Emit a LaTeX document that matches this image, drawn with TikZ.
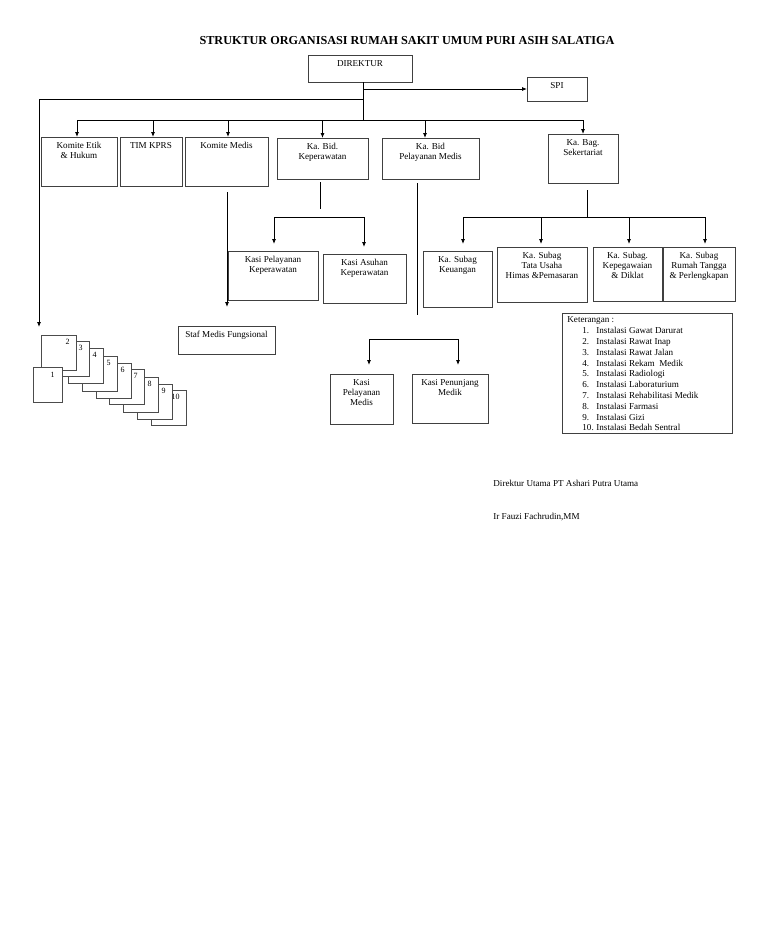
\documentclass[tikz,border=0pt]{standalone}
\usepackage{fontspec}
\setmainfont{Liberation Serif}
\usetikzlibrary{arrows.meta}
\newcommand{\obx}[6]{\node[obox, minimum width={(#4-#2)*1pt}, minimum height={(#5-#3)*1pt}, label={[lbl]north:{#6}}] (#1) at ({(#2+#4)/2},{(#3+#5)/2}) {};}
\newcommand{\pg}[3]{\node[pgbox, minimum width=35pt, minimum height=35pt, anchor=north east, label={[pglbl]north east:{#3}}] (p#3) at (#1,#2) {};}
\begin{document}
\begin{tikzpicture}[x=1pt,y=-1pt,
  line width=0.8pt,
  fs/.style={font=\fontsize{9.1}{10}\selectfont},
  obox/.style={draw=black!75, line width=0.8pt, fill=white, inner sep=0pt, outer sep=0pt},
  pgbox/.style={draw=black!70, line width=0.7pt, fill=white, inner sep=0pt, outer sep=0pt},
  lbl/.style={anchor=north, inner sep=0pt, yshift=-5pt, align=center, fs},
  pglbl/.style={anchor=north east, inner sep=0pt, xshift=-6pt, yshift=-4pt, font=\fontsize{8}{9}\selectfont},
  arr/.style={-{Latex[length=5pt,width=4pt]}},
  darr/.style={{Latex[length=5pt,width=4pt]}-{Latex[length=5pt,width=4pt]}}
]
\useasboundingbox (0,0) rectangle (768,932);
\fill[white] (0,0) rectangle (768,932);

% title
\node[font=\fontsize{12.2}{14}\selectfont\bfseries, inner sep=0pt] (title) at (407,41) {STRUKTUR ORGANISASI RUMAH SAKIT UMUM PURI ASIH SALATIGA};

% top level
\obx{dir}{308}{55}{412}{82}{DIREKTUR}
\obx{spi}{527}{77}{587}{101}{SPI}

% second row
\obx{ke}{41}{137}{117}{186}{Komite Etik\\\& Hukum}
\obx{tim}{120}{137}{182}{186}{TIM KPRS}
\obx{km}{185}{137}{268}{186}{Komite Medis}
\obx{kbk}{277}{138}{368}{179}{Ka. Bid.\\Keperawatan}
\obx{kbpm}{382}{138}{479}{179}{Ka. Bid\\Pelayanan Medis}
\obx{kbag}{548}{134}{618}{183}{Ka. Bag.\\Sekertariat}

% third row
\obx{kpk}{228}{251}{318}{300}{Kasi Pelayanan\\Keperawatan}
\obx{kak}{323}{254}{406}{303}{Kasi Asuhan\\Keperawatan}
\obx{sk}{423}{251}{492}{307}{Ka. Subag\\Keuangan}
\obx{stu}{497}{247}{587}{302}{Ka. Subag\\Tata Usaha\\Himas \&Pemasaran}
\obx{skp}{593}{247}{662}{301}{Ka. Subag.\\Kepegawaian\\\& Diklat}
\obx{srt}{663}{247}{735}{301}{Ka. Subag\\Rumah Tangga\\\& Perlengkapan}

\obx{smf}{178}{326}{275}{354}{Staf Medis Fungsional}
\obx{kpm}{330}{374}{393}{424}{Kasi\\Pelayanan\\Medis}
\obx{kpj}{412}{374}{488}{423}{Kasi Penunjang\\Medik}

% keterangan
\obx{ket}{562}{313}{732}{433}{}
\node[anchor=north west, inner sep=0pt, align=left, font=\fontsize{9.1}{10.8}\selectfont] (kettext) at (567,316.5) {Keterangan :\\
\hspace*{15pt}\makebox[14pt][l]{1.}Instalasi Gawat Darurat\\
\hspace*{15pt}\makebox[14pt][l]{2.}Instalasi Rawat Inap\\
\hspace*{15pt}\makebox[14pt][l]{3.}Instalasi Rawat Jalan\\
\hspace*{15pt}\makebox[14pt][l]{4.}Instalasi Rekam\ \ Medik\\
\hspace*{15pt}\makebox[14pt][l]{5.}Instalasi Radiologi\\
\hspace*{15pt}\makebox[14pt][l]{6.}Instalasi Laboraturium\\
\hspace*{15pt}\makebox[14pt][l]{7.}Instalasi Rehabilitasi Medik\\
\hspace*{15pt}\makebox[14pt][l]{8.}Instalasi Farmasi\\
\hspace*{15pt}\makebox[14pt][l]{9.}Instalasi Gizi\\
\hspace*{15pt}\makebox[14pt][l]{10.}Instalasi Bedah Sentral};

% stacked pages (installations)
\pg{186}{390}{10}
\pg{172}{384}{9}
\pg{158}{377}{8}
\pg{144}{369}{7}
\pg{131}{363}{6}
\pg{117}{356}{5}
\pg{103}{348}{4}
\pg{89}{341}{3}
\pg{76}{335}{2}
\node[pgbox, minimum width=29pt, minimum height=35pt, anchor=north west, label={[pglbl, xshift=-1pt, yshift=-1pt]north east:{1}}] (p1) at (33,367) {};

% signature
\node[anchor=west, inner sep=0pt, fs] (sig1) at (493,483) {Direktur Utama PT Ashari Putra Utama};
\node[anchor=west, inner sep=0pt, fs] (sig2) at (493,517) {Ir Fauzi Fachrudin,MM};

% connectors
\coordinate (jbus) at (363,120);
\coordinate (jleft) at (363,99);
\coordinate (lcorner) at (39,99);
\coordinate (lend) at (39,327);
\draw (dir.south -| jbus) -- (jbus);
\draw[arr] (jbus |- spi.west) -- (spi.west);
\draw[arr] (jleft) -- (lcorner) -- (lend);
\draw ([xshift=-2pt]ke.north |- jbus) -- (kbag.north |- jbus);
\draw[arr] ([xshift=-2pt]ke.north |- jbus) -- ([xshift=-2pt]ke.north);
\draw[arr] ([xshift=2pt]tim.north |- jbus) -- ([xshift=2pt]tim.north);
\draw[arr] ([xshift=1.5pt]km.north |- jbus) -- ([xshift=1.5pt]km.north);
\draw[arr] (kbk.north |- jbus) -- (kbk.north);
\draw[arr] ([xshift=-5.5pt]kbpm.north |- jbus) -- ([xshift=-5.5pt]kbpm.north);
\draw[arr] (kbag.north |- jbus) -- (kbag.north);

% komite medis -> staf medis
\coordinate (kmA) at (227,192);
\coordinate (kmB) at (227,307);
\draw[arr] (kmA) -- (kmB);

% keperawatan
\coordinate (kepA) at (320,182);
\coordinate (kepB) at (320,209);
\coordinate (kepL) at (274,217);
\coordinate (kepR) at (364,217);
\coordinate (kepLe) at (274,244);
\coordinate (kepRe) at (364,247);
\draw (kepA) -- (kepB);
\draw[darr] (kepLe) -- (kepL) -- (kepR) -- (kepRe);

% pelayanan medis
\coordinate (pmA) at (417,183);
\coordinate (pmB) at (417,315);
\draw (pmA) -- (pmB);
\coordinate (pmL) at (369,339);
\coordinate (pmR) at (458,339);
\coordinate (pmLe) at (369,365);
\coordinate (pmRe) at (458,365);
\draw[darr] (pmLe) -- (pmL) -- (pmR) -- (pmRe);

% sekertariat
\coordinate (sekA) at (587,190);
\coordinate (sekB) at (587,217);
\coordinate (sek1) at (463,217);
\coordinate (sek2) at (541,217);
\coordinate (sek3) at (629,217);
\coordinate (sek4) at (705,217);
\coordinate (sek1e) at (463,244);
\coordinate (sek2e) at (541,244);
\coordinate (sek3e) at (629,244);
\coordinate (sek4e) at (705,244);
\draw (sekA) -- (sekB);
\draw[darr] (sek1e) -- (sek1) -- (sek4) -- (sek4e);
\draw[arr] (sek2) -- (sek2e);
\draw[arr] (sek3) -- (sek3e);
\end{tikzpicture}
\end{document}
